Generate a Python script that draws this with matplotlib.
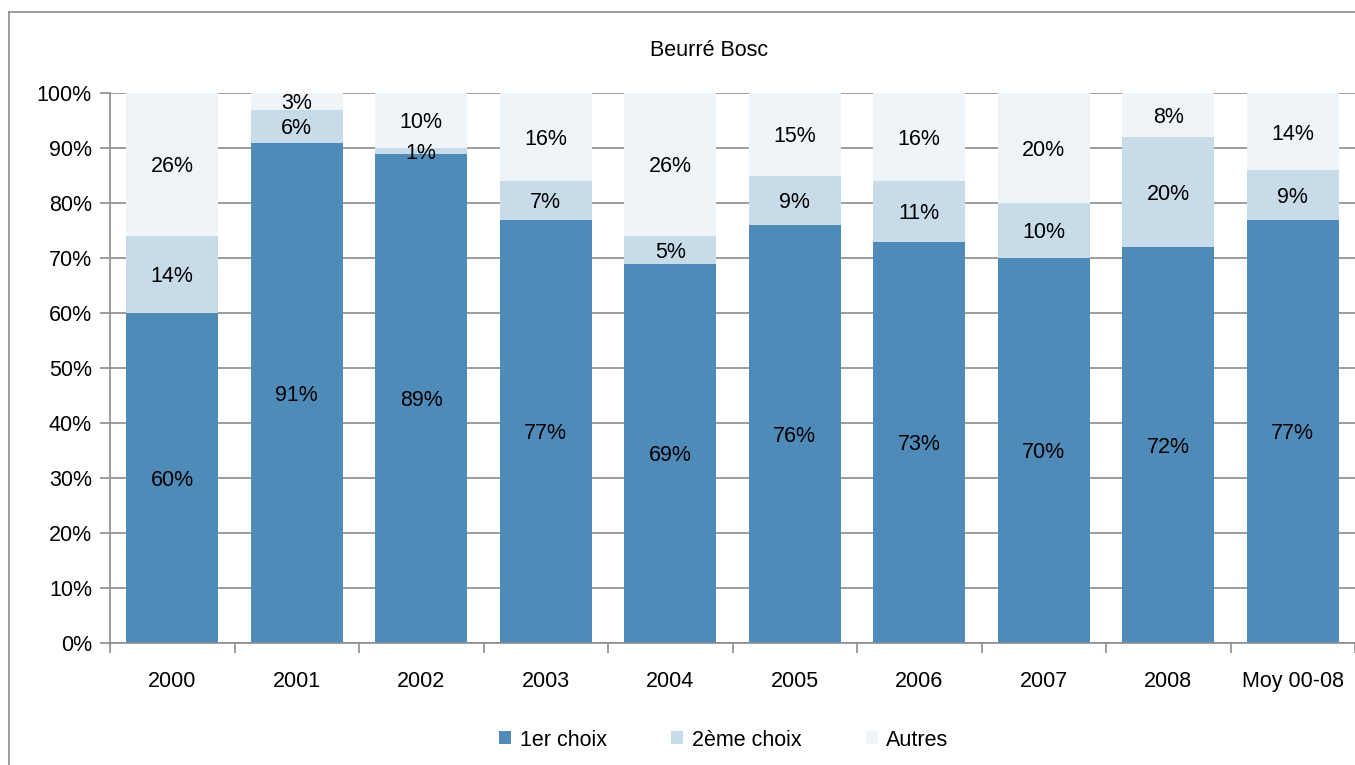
import numpy as np
import matplotlib.pyplot as plt
from matplotlib.lines import Line2D
from matplotlib.ticker import FixedLocator, PercentFormatter

plt.rcParams['font.family'] = ['Liberation Sans', 'DejaVu Sans']

categories = ["2000", "2001", "2002", "2003", "2004", "2005", "2006", "2007", "2008", "Moy 00-08"]
premier = [60, 91, 89, 77, 69, 76, 73, 70, 72, 77]
deuxieme = [14, 6, 1, 7, 5, 9, 11, 10, 20, 9]
autres = [26, 3, 10, 16, 26, 15, 16, 20, 8, 14]

series = [
    ("1er choix", premier, "#4F8BB9"),
    ("2ème choix", deuxieme, "#C8DBE8"),
    ("Autres", autres, "#EEF4F8"),
]

FS = 15.5
W, H = 1355, 765
fig = plt.figure(figsize=(W / 100, H / 100), dpi=100)
ax = fig.add_axes([110 / W, 1 - 643 / H, (1355 - 110) / W, 550 / H])

x = np.arange(len(categories))
bottom = np.zeros(len(categories))
for name, vals, color in series:
    vals = np.array(vals, dtype=float)
    ax.bar(x, vals, 0.74, bottom=bottom, color=color, label=name, zorder=2)
    for xi, b, v in zip(x, bottom, vals):
        ax.text(xi, b + v / 2, f"{int(v)}%", ha="center", va="center_baseline",
                fontsize=FS, zorder=3)
    bottom += vals

ax.set_xlim(-0.5, len(categories) - 0.5)
ax.set_ylim(0, 100)
ax.yaxis.set_major_locator(FixedLocator(np.arange(0, 101, 10)))
ax.yaxis.set_major_formatter(PercentFormatter(decimals=0))
ax.grid(axis="y", color="#8C8C8C", linewidth=1.2, zorder=0)
ax.set_axisbelow(True)

ax.set_xticks(x)
ax.set_xticklabels(categories)
ax.set_xticks(np.arange(-0.5, len(categories), 1), minor=True)
ax.tick_params(axis="x", which="major", length=0, pad=20, labelsize=FS)
ax.tick_params(axis="x", which="minor", length=7, color="#8C8C8C", width=1.2)
ax.tick_params(axis="y", length=7, color="#8C8C8C", width=1.2, labelsize=FS, pad=6)

for s in ["top", "right"]:
    ax.spines[s].set_visible(False)
for s in ["left", "bottom"]:
    ax.spines[s].set_color("#8C8C8C")
    ax.spines[s].set_linewidth(1.2)

fig.text(709 / W, 1 - 51 / H, "Beurré Bosc", ha="center", va="center", fontsize=FS)

handles, labels = ax.get_legend_handles_labels()
fig.legend(handles, labels, loc="center", bbox_to_anchor=(724 / W, 1 - 740 / H), ncol=3,
           frameon=False, fontsize=FS, handlelength=0.55, handleheight=0.55,
           columnspacing=3.0, handletextpad=0.4)

# outer chart border (clipped at right and bottom)
fig.add_artist(Line2D([9 / W, 9 / W], [0, 1 - 12 / H], transform=fig.transFigure, color="#8C8C8C", lw=1.2))
fig.add_artist(Line2D([9 / W, 1], [1 - 12 / H, 1 - 12 / H], transform=fig.transFigure, color="#8C8C8C", lw=1.2))

fig.savefig("out.png", dpi=100)
